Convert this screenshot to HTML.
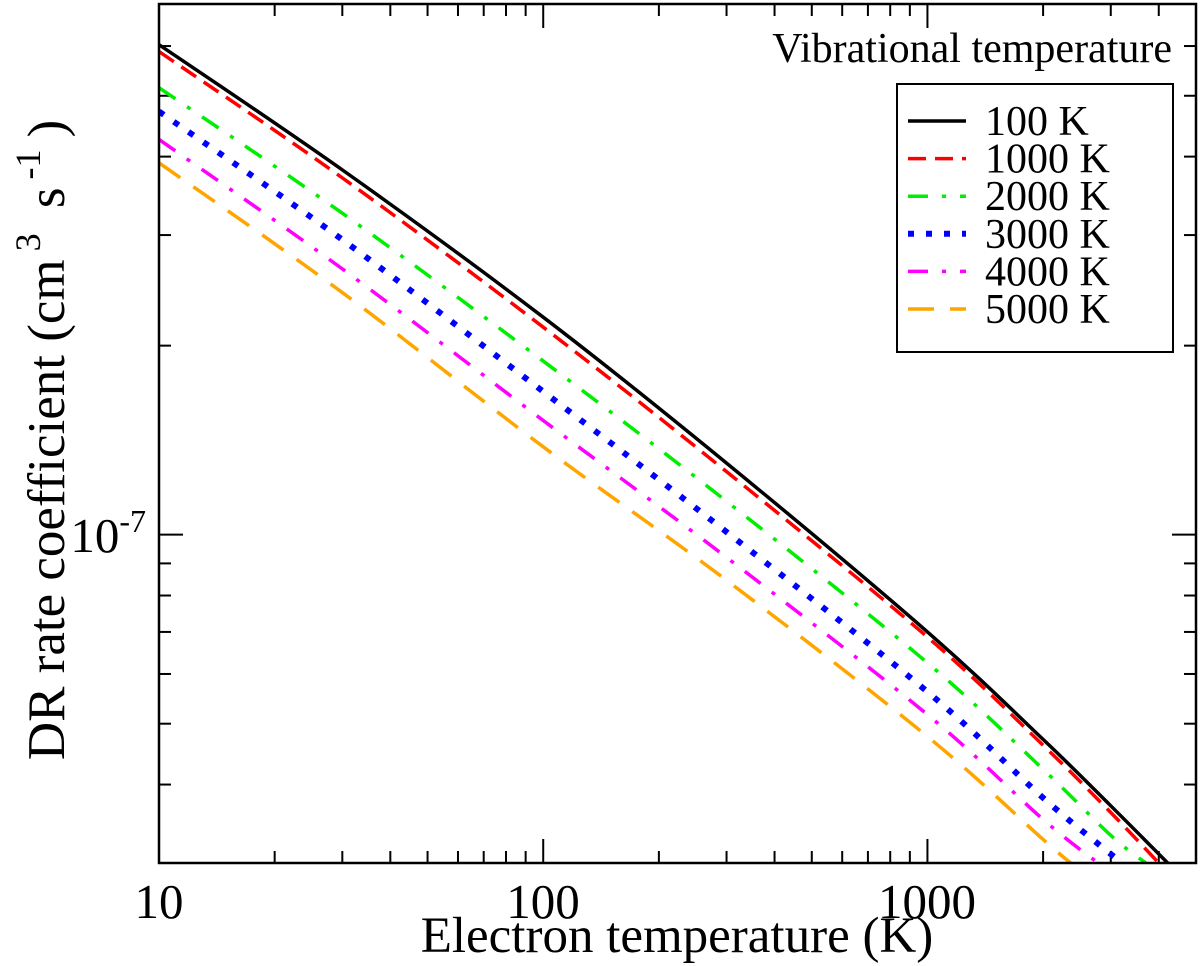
<!DOCTYPE html>
<html><head><meta charset="utf-8">
<style>
html,body{margin:0;padding:0;background:#fff;}
svg{display:block;font-family:"Liberation Serif",serif;}
</style></head>
<body>
<svg id="chart" width="1200" height="966" viewBox="0 0 1200 966" xmlns="http://www.w3.org/2000/svg">
<g id="ticks"></g>
<g id="series"></g>
<rect x="159" y="4" width="1037" height="859" fill="none" stroke="#000" stroke-width="2.5"/>
<text x="159" y="918" font-size="49" text-anchor="middle">10</text>
<text x="543" y="918" font-size="49" text-anchor="middle">100</text>
<text x="927" y="918" font-size="49" text-anchor="middle">1000</text>
<text x="146" y="552" font-size="49" text-anchor="end">10<tspan font-size="32" dy="-20">-7</tspan></text>
<text x="677" y="952" font-size="51" text-anchor="middle">Electron temperature (K)</text>
<text transform="translate(64,440) rotate(-90)" font-size="53" text-anchor="middle">DR rate coefficient (cm<tspan font-size="36" dx="8" dy="-24">3</tspan><tspan dx="12" dy="24"> s</tspan><tspan font-size="36" dx="8" dy="-24">-1</tspan><tspan dx="12" dy="24">)</tspan></text>
<text x="1172" y="62" font-size="42" text-anchor="end">Vibrational temperature</text>
<rect x="897" y="84" width="276" height="268" fill="#fff" stroke="#000" stroke-width="2"/>
<g id="legend"></g>
</svg>
<script>
const xTicksMajor = [10, 100, 1000];
const xTicksMinor = [20,30,40,50,60,70,80,90,200,300,400,500,600,700,800,900,2000,3000,4000];
const yTickMajor = [1e-7];
const yTicksMinor = [4e-8,5e-8,6e-8,7e-8,8e-8,9e-8,2e-7,3e-7,4e-7,5e-7,6e-7];
const seriesNames = ["100 K","1000 K","2000 K","3000 K","4000 K","5000 K"];
const tBlack = [10,30,100,300,1000,2000,3000,4220];
const vBlack = [6.03e-7,3.81e-7,2.22e-7,1.30e-7,7.0e-8,4.72e-8,3.70e-8,3.0e-8];
const tRed = [10,30,100,300,1000,2000,3000,4000];
const vRed = [5.88e-7,3.70e-7,2.14e-7,1.26e-7,6.87e-8,4.62e-8,3.61e-8,3.0e-8];
const tGreen = [10,30,100,300,1000,2000,3000,3700];
const vGreen = [5.15e-7,3.25e-7,1.89e-7,1.13e-7,6.25e-8,4.23e-8,3.32e-8,3.0e-8];
const tBlue = [10,30,100,300,1000,2000,3000,3220];
const vBlue = [4.72e-7,2.95e-7,1.69e-7,1.01e-7,5.62e-8,3.81e-8,3.10e-8,3.0e-8];
const tMagenta = [10,30,100,300,1000,2000,2780];
const vMagenta = [4.26e-7,2.65e-7,1.52e-7,9.20e-8,5.17e-8,3.52e-8,3.0e-8];
const tOrange = [10,30,100,300,1000,2000,2360];
const vOrange = [3.91e-7,2.43e-7,1.38e-7,8.46e-8,4.77e-8,3.27e-8,3.0e-8];

const X0=159, X1=1196, Y0=863, Y1=4;
const xMin=10, xMax=5000, yMin=3e-8, yMax=7e-7;
function xs(t){return X0+(Math.log10(t)-Math.log10(xMin))/(Math.log10(xMax)-Math.log10(xMin))*(X1-X0);}
function ys(v){return Y0-(Math.log10(v)-Math.log10(yMin))/(Math.log10(yMax)-Math.log10(yMin))*(Y0-Y1);}
const NS="http://www.w3.org/2000/svg";
function mk(tag,attrs,parent){const e=document.createElementNS(NS,tag);for(const k in attrs)e.setAttribute(k,attrs[k]);parent.appendChild(e);return e;}

const tg=document.getElementById('ticks');
function tick(x1,y1,x2,y2,name){const l=mk('line',{x1:x1,y1:y1,x2:x2,y2:y2,stroke:'#000','stroke-width':2},tg);

}
xTicksMajor.forEach(t=>{const x=xs(t);tick(x,Y0,x,Y0-24,'x-major-tick');tick(x,Y1,x,Y1+24,'x-major-tick-top');});
xTicksMinor.forEach(t=>{const x=xs(t);tick(x,Y0,x,Y0-12,'x-minor-tick');tick(x,Y1,x,Y1+12,'x-minor-tick-top');});
yTickMajor.forEach(v=>{const y=ys(v);tick(X0,y,X0+24,y,'y-major-tick');tick(X1,y,X1-24,y,'y-major-tick-right');});
yTicksMinor.forEach(v=>{const y=ys(v);tick(X0,y,X0+12,y,'y-minor-tick');tick(X1,y,X1-12,y,'y-minor-tick-right');});

const styles=[
 {c:'#000',d:''},
 {c:'#ff0000',d:'18 9'},
 {c:'#00ee00',d:'20 14 4 14'},
 {c:'#0000ff',d:'6 12'},
 {c:'#ff00ff',d:'20 14 4 14'},
 {c:'#ffa500',d:'26 16'}
];
const allT=[tBlack,tRed,tGreen,tBlue,tMagenta,tOrange];
const allV=[vBlack,vRed,vGreen,vBlue,vMagenta,vOrange];
const sg=document.getElementById('series');
const clip=mk('clipPath',{id:'pc'},mk('defs',{},sg));
mk('rect',{x:X0,y:Y1,width:X1-X0,height:Y0-Y1},clip);
allT.forEach((ts,i)=>{
 const pts=ts.map((t,j)=>[xs(t),ys(allV[i][j])]);
 let d='M'+pts[0][0]+','+pts[0][1];
 for(let j=0;j<pts.length-1;j++){
  const p0=pts[Math.max(j-1,0)],p1=pts[j],p2=pts[j+1],p3=pts[Math.min(j+2,pts.length-1)];
  const c1=[p1[0]+(p2[0]-p0[0])/6,p1[1]+(p2[1]-p0[1])/6];
  const c2=[p2[0]-(p3[0]-p1[0])/6,p2[1]-(p3[1]-p1[1])/6];
  d+=' C'+c1[0]+','+c1[1]+' '+c2[0]+','+c2[1]+' '+p2[0]+','+p2[1];
 }
 const p=mk('path',{d:d,fill:'none',stroke:styles[i].c,'stroke-width':i==3?6:3.5,'stroke-dasharray':styles[i].d,'clip-path':'url(#pc)'},sg);
 
 
});
const lg=document.getElementById('legend');
seriesNames.forEach((n,i)=>{
 const y=121+i*37.6;
 const l=mk('line',{x1:908,y1:y,x2:966,y2:y,stroke:styles[i].c,'stroke-width':i==3?6:3.5,'stroke-dasharray':styles[i].d},lg);
 
 
 const t=mk('text',{x:985,y:y+14,'font-size':42},lg);
 t.textContent=n;
 
 
});
</script>
</body></html>
